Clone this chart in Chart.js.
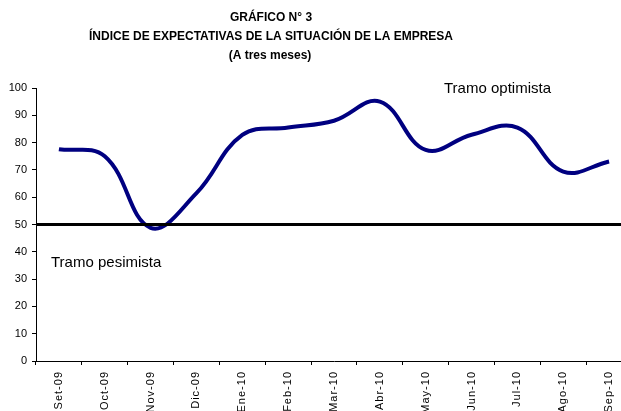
<!DOCTYPE html>
<html>
<head>
<meta charset="utf-8">
<script src="https://cdn.jsdelivr.net/npm/chart.js@4.4.1/dist/chart.umd.min.js"></script>
<style>
  html, body { margin: 0; padding: 0; background: #fff; overflow: hidden; }
  #wrap { width: 640px; height: 425px; }
</style>
</head>
<body>
<div id="wrap"><canvas id="chart" width="640" height="425"></canvas></div>
<script>
// Chart values
const months = ['Set-09', 'Oct-09', 'Nov-09', 'Dic-09', 'Ene-10', 'Feb-10', 'Mar-10',
                'Abr-10', 'May-10', 'Jun-10', 'Jul-10', 'Ago-10', 'Sep-10'];
const indice = [77.6, 75, 48.8, 61.5, 82.8, 85.5, 88, 95, 77.3, 82.9, 85.5, 69.4, 73.1];
const threshold = 50;
const yTicks = [0, 10, 20, 30, 40, 50, 60, 70, 80, 90, 100];
const titleLines = ['GRÁFICO N° 3', 'ÍNDICE DE EXPECTATIVAS DE LA SITUACIÓN DE LA EMPRESA', '(A tres meses)'];

const FONT = "'Liberation Sans', Arial, sans-serif";

// Title, the 50 line and the two text notes
const extras = {
    id: 'extras',
    afterUpdate(chart) {
        // spaced-out letters on the month labels only
        const xs = chart.scales.x;
        if (!xs._spaced) {
            const orig = xs.drawLabels.bind(xs);
            xs.drawLabels = function (area) {
                chart.ctx.save();
                chart.ctx.letterSpacing = '1px';
                orig(area);
                chart.ctx.restore();
            };
            xs._spaced = true;
        }
    },
    afterDatasetsDraw(chart) {
        const ctx = chart.ctx;
        const area = chart.chartArea;
        const y = chart.scales.y.getPixelForValue(threshold);
        ctx.save();
        ctx.strokeStyle = '#000';
        ctx.lineWidth = 3;
        ctx.beginPath();
        ctx.moveTo(area.left + 1, y);
        ctx.lineTo(area.right, y);
        ctx.stroke();
        ctx.restore();
    },
    afterDraw(chart) {
        const ctx = chart.ctx;
        ctx.save();
        ctx.fillStyle = '#000';
        ctx.textBaseline = 'middle';
        ctx.textAlign = 'center';
        ctx.font = 'bold 12px ' + FONT;
        ctx.fillText(titleLines[0], 271, 18);
        ctx.fillText(titleLines[1], 271, 37);
        ctx.fillText(titleLines[2], 270, 56);

        ctx.textAlign = 'left';
        ctx.font = '15px ' + FONT;
        ctx.fillText('Tramo optimista', 444, 89);
        ctx.fillText('Tramo pesimista', 51, 263);
        ctx.restore();
    }
};

new Chart(document.getElementById('chart'), {
    type: 'line',
    data: {
        labels: months,
        datasets: [{
            label: 'Índice',
            data: indice,
            borderColor: '#000080',
            borderWidth: 4,
            tension: 0.4,
            pointRadius: 0,
            fill: false
        }]
    },
    options: {
        responsive: false,
        animation: false,
        layout: { padding: { top: 88, right: 8, left: 0, bottom: 0 } },
        plugins: {
            legend: { display: false },
            tooltip: { enabled: false }
        },
        scales: {
            x: {
                type: 'category',
                offset: true,
                grid: { offset: true, drawOnChartArea: false, color: '#000', tickLength: 4 },
                border: { color: '#000', width: 1 },
                ticks: {
                    autoSkip: false, maxRotation: 90, minRotation: 90, padding: 6,
                    color: '#000', font: { size: 11, family: FONT }
                },
                afterFit(scale) { scale.height = 64; }
            },
            y: {
                min: 0,
                max: 100,
                afterBuildTicks(scale) { scale.ticks = yTicks.map(v => ({ value: v })); },
                grid: { drawOnChartArea: false, color: '#000', tickLength: 4 },
                border: { color: '#000', width: 1 },
                ticks: { padding: 5, color: '#000', font: { size: 11, family: FONT } },
                afterFit(scale) { scale.width = 36; }
            }
        }
    },
    plugins: [extras]
});
</script>
</body>
</html>
